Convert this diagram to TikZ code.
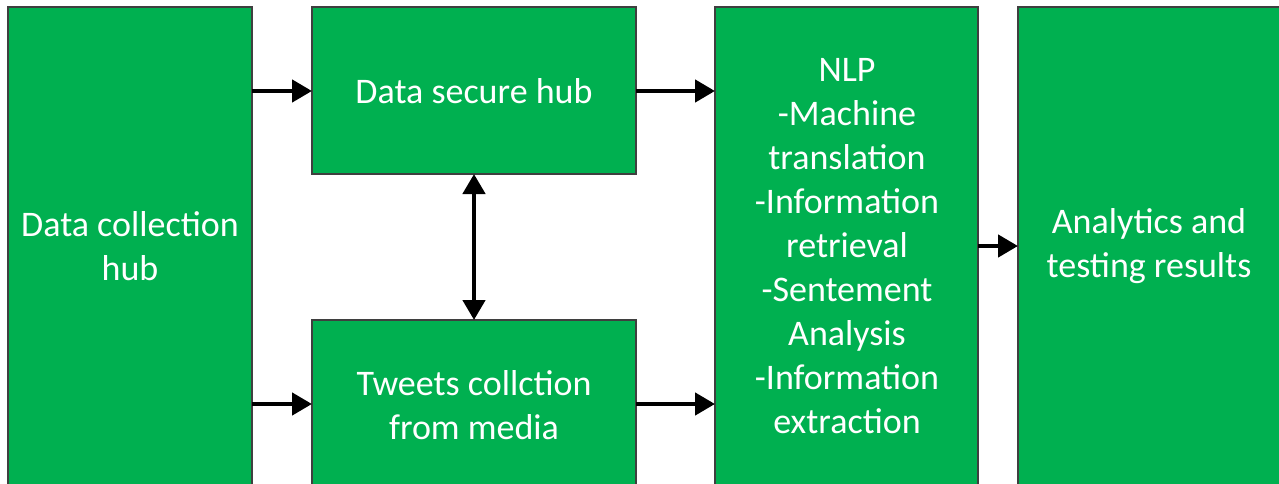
\documentclass[tikz,border=0pt]{standalone}
\usepackage{fontspec}
\setmainfont{Carlito}
\usetikzlibrary{arrows.meta}
\definecolor{boxgreen}{HTML}{00B050}
\definecolor{boxedge}{HTML}{3F3F3F}
\begin{document}
\begin{tikzpicture}[x=1pt,y=-1pt,
  blk/.style={draw=boxedge,line width=1.2pt,fill=boxgreen},
  lbl/.style={text=white,align=center,font=\fontsize{36}{44}\selectfont,inner sep=0pt},
  arr/.style={line width=4.5pt,-{Triangle[length=20pt,width=22pt]}},
  darr/.style={line width=4.5pt,{Triangle[length=20pt,width=22pt]}-{Triangle[length=20pt,width=22pt]}}]
\useasboundingbox (0,0) rectangle (1279,484);
\draw[blk] (8,7) rectangle (252,490) coordinate (b1c);
\draw[blk] (312,7) rectangle (636,174);
\draw[blk] (312,320) rectangle (636,490);
\draw[blk] (715,7) rectangle (978,490);
\draw[blk] (1018,7) rectangle (1290,490);
\node[lbl] (t1) at (130,246) {Data collection\\hub};
\node[lbl] (t2) at (474,91) {Data secure hub};
\node[lbl] (t3) at (474,405) {Tweets collction\\from media};
\node[lbl] (t4) at (847,246) {NLP\\-Machine\\translation\\-Information\\retrieval\\-Sentement\\Analysis\\-Information\\extraction};
\node[lbl] (t5) at (1149,246) {Analytics and\\testing results};
\coordinate (a1s) at (252,91);  \coordinate (a1e) at (312,91);
\coordinate (a2s) at (252,404); \coordinate (a2e) at (312,404);
\coordinate (a3s) at (636,91);  \coordinate (a3e) at (715,91);
\coordinate (a4s) at (636,404); \coordinate (a4e) at (715,404);
\coordinate (a5s) at (978,246); \coordinate (a5e) at (1018,246);
\coordinate (v1) at (474,174);  \coordinate (v2) at (474,320);
\draw[arr] (a1s) -- (a1e);
\draw[arr] (a2s) -- (a2e);
\draw[arr] (a3s) -- (a3e);
\draw[arr] (a4s) -- (a4e);
\draw[arr] (a5s) -- (a5e);
\draw[darr] (v1) -- (v2);
\end{tikzpicture}
\end{document}
